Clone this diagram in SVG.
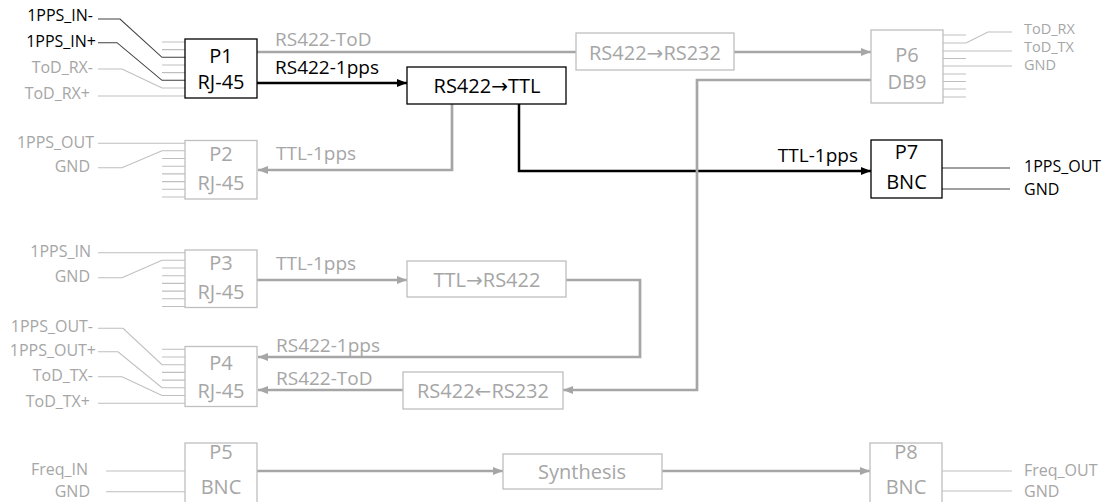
<svg xmlns="http://www.w3.org/2000/svg" width="1106" height="502" viewBox="0 0 1106 502">
<style>
text{font-family:"Open Sans","Noto Sans","DejaVu Sans",sans-serif}
.lbl{font-size:16px}
.rl{font-size:14.5px}
.conn{font-size:19px}
.box{font-size:20px;text-anchor:middle}
.k{fill:#000}
.g{fill:#a6a6a6}
.end{text-anchor:end}
.bk{fill:#fff;stroke:#000;stroke-width:1.3}
.bg{fill:#fff;stroke:#bfbfbf;stroke-width:1.3}
.pk{fill:none;stroke:#404040;stroke-width:1.1}
.pg{fill:none;stroke:#bfbfbf;stroke-width:1.1}
.ck{fill:none;stroke:#000;stroke-width:2.5}
.cg{fill:none;stroke:#a6a6a6;stroke-width:2.7}
</style>
<defs>
<marker id="ak" markerUnits="userSpaceOnUse" markerWidth="10" markerHeight="8" refX="10" refY="4" orient="auto"><path d="M0,0 L10,4 L0,8 Z" fill="#000"/></marker>
<marker id="ag" markerUnits="userSpaceOnUse" markerWidth="10" markerHeight="8" refX="10" refY="4" orient="auto"><path d="M0,0 L10,4 L0,8 Z" fill="#a6a6a6"/></marker>
</defs>
<rect width="1106" height="502" fill="#fff"/>

<g id="connectors">
<path class="cg" d="M257,52 H576"/>
<path class="cg" d="M734,52 H871" marker-end="url(#ag)"/>
<path class="ck" d="M257,83 H407" marker-end="url(#ak)"/>
<path class="cg" d="M452,104 V170 H258" marker-end="url(#ag)"/>
<path class="ck" d="M519,104 V171 H871" marker-end="url(#ak)"/>
<path class="cg" d="M257,280 H407" marker-end="url(#ag)"/>
<path class="cg" d="M566,280 H640 V357 H258" marker-end="url(#ag)"/>
<path class="cg" d="M871,80 H697 V390 H563" marker-end="url(#ag)"/>
<path class="cg" d="M403,390 H258" marker-end="url(#ag)"/>
<path class="cg" d="M257,471 H503" marker-end="url(#ag)"/>
<path class="cg" d="M662,471 H870" marker-end="url(#ag)"/>
<text class="conn g" x="275" y="46">RS422-ToD</text>
<text class="conn k" x="275" y="74">RS422-1pps</text>
<text class="conn g" x="276" y="160">TTL-1pps</text>
<text class="conn k end" x="858" y="162">TTL-1pps</text>
<text class="conn g" x="276" y="270">TTL-1pps</text>
<text class="conn g" x="276" y="352">RS422-1pps</text>
<text class="conn g" x="276" y="385">RS422-ToD</text>
</g>

<g id="P1">
<path class="pg" d="M162,42 H185 M162,49.6 H185 M162,65 H185 M162,72.6 H185 M98,69 H122 L162,88 H185 M98,96 H185"/>
<path class="pk" d="M98,19 H120 L162,57.3 H185 M98,42.7 H117 L162,80.3 H185"/>
<rect class="bk" x="185" y="39" width="72" height="59"/>
<text class="box k" x="221" y="63">P1</text>
<text class="box k" x="221" y="89">RJ-45</text>
<text class="lbl k end" x="93" y="21">1PPS_IN-</text>
<text class="lbl k end" x="96" y="47">1PPS_IN+</text>
<text class="lbl g end" x="93" y="73">ToD_RX-</text>
<text class="lbl g end" x="90" y="99">ToD_RX+</text>
</g>

<g id="P2">
<path class="pg" d="M98,143.3 H185 M98,167.7 H122 L162,150.8 H185 M162,158.5 H185 M162,166.2 H185 M162,173.9 H185 M162,181.6 H185 M162,189.3 H185 M162,197 H185"/>
<rect class="bg" x="185" y="140.5" width="72" height="58.5"/>
<text class="box g" x="221" y="161">P2</text>
<text class="box g" x="221" y="190">RJ-45</text>
<text class="lbl g end" x="94" y="148">1PPS_OUT</text>
<text class="lbl g end" x="90" y="172">GND</text>
</g>

<g id="P3">
<path class="pg" d="M98,252.7 H185 M98,277.7 H122 L162,260.3 H185 M162,268 H185 M162,275.7 H185 M162,283.4 H185 M162,291.1 H185 M162,298.8 H185 M162,306.5 H185"/>
<rect class="bg" x="185" y="250" width="72" height="57.5"/>
<text class="box g" x="221" y="270">P3</text>
<text class="box g" x="221" y="299">RJ-45</text>
<text class="lbl g end" x="91" y="257">1PPS_IN</text>
<text class="lbl g end" x="90" y="282">GND</text>
</g>

<g id="P4">
<path class="pg" d="M162,349.3 H185 M162,357 H185 M162,372.4 H185 M162,380.1 H185 M98,328.3 H123 L162,364.7 H185 M98,351.7 H118 L162,387.8 H185 M98,376.7 H122 L162,395.5 H185 M98,403.3 H185"/>
<rect class="bg" x="185" y="346.5" width="72" height="60"/>
<text class="box g" x="221" y="370">P4</text>
<text class="box g" x="221" y="398">RJ-45</text>
<text class="lbl g end" x="93" y="332">1PPS_OUT-</text>
<text class="lbl g end" x="96" y="356">1PPS_OUT+</text>
<text class="lbl g end" x="93" y="381">ToD_TX-</text>
<text class="lbl g end" x="90" y="407">ToD_TX+</text>
</g>

<g id="P5">
<path class="pg" d="M106,471 H185 M106,491.7 H185"/>
<rect class="bg" x="185" y="443" width="72" height="62"/>
<text class="box g" x="221" y="459">P5</text>
<text class="box g" x="221" y="494">BNC</text>
<text class="lbl g end" x="88" y="475">Freq_IN</text>
<text class="lbl g end" x="90" y="497">GND</text>
</g>

<g id="RS422toRS232">
<rect class="bg" x="576" y="33" width="158" height="37"/>
<text class="box g" x="655" y="60">RS422→RS232</text>
</g>

<g id="RS422toTTL">
<rect class="bk" x="407" y="67" width="159" height="37"/>
<text class="box k" x="487" y="93">RS422→TTL</text>
</g>

<g id="TTLtoRS422">
<rect class="bg" x="407" y="261" width="159" height="36"/>
<text class="box g" x="487" y="287">TTL→RS422</text>
</g>

<g id="RS422fromRS232">
<rect class="bg" x="403" y="372" width="160" height="37"/>
<text class="box g" x="483" y="398">RS422←RS232</text>
</g>

<g id="Synthesis">
<rect class="bg" x="503" y="454" width="159" height="35"/>
<text class="box g" x="582" y="479">Synthesis</text>
</g>

<g id="P6">
<path class="pg" d="M943,35 H966 M943,43 H966 L988,32 H1012 M943,51 H1012 M943,58.5 H966 M943,66 H1012 M943,74 H966 M943,81.5 H966 M943,89 H966 M943,97 H966"/>
<rect class="bg" x="871" y="30" width="72" height="73"/>
<text class="box g" x="907" y="62">P6</text>
<text class="box g" x="907" y="89">DB9</text>
<text class="rl g" x="1024" y="34">ToD_RX</text>
<text class="rl g" x="1024" y="52">ToD_TX</text>
<text class="rl g" x="1024" y="70">GND</text>
</g>

<g id="P7">
<path class="pk" d="M942,168 H1010 M942,189 H1010"/>
<rect class="bk" x="871" y="140" width="71" height="58"/>
<text class="box k" x="906.5" y="159">P7</text>
<text class="box k" x="906.5" y="189">BNC</text>
<text class="lbl k" x="1024" y="172">1PPS_OUT</text>
<text class="lbl k" x="1024" y="195">GND</text>
</g>

<g id="P8">
<path class="pg" d="M942,471 H1012 M942,491 H1012"/>
<rect class="bg" x="870" y="443" width="72" height="62"/>
<text class="box g" x="906" y="459">P8</text>
<text class="box g" x="906" y="494">BNC</text>
<text class="lbl g" x="1024" y="476">Freq_OUT</text>
<text class="lbl g" x="1024" y="497">GND</text>
</g>
</svg>
